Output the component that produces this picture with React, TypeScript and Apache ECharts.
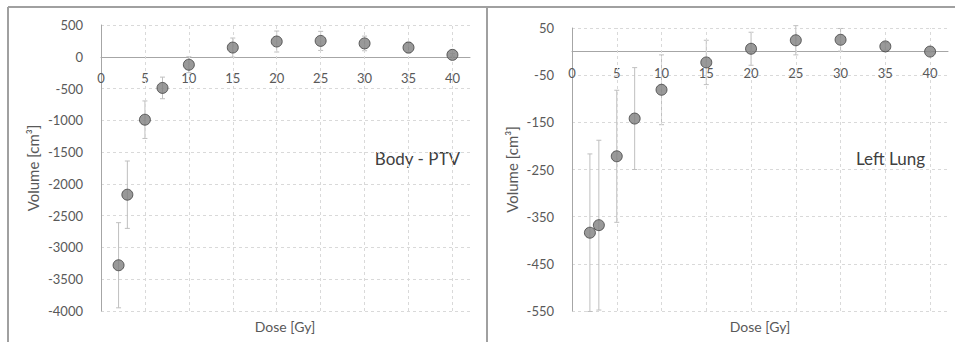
import React, { useEffect, useRef } from "react";
import * as echarts from "echarts";

const doses = [2, 3, 5, 7, 10, 15, 20, 25, 30, 35, 40];
const bodyMean = [-3280, -2170, -990, -490, -125, 145, 240, 250, 210, 145, 30];
const bodyErr = [670, 530, 295, 170, 125, 150, 165, 150, 115, 85, 20];
const lungMean = [-384, -368, -222, -142, -81, -23, 6, 24, 25, 11, 0];
const lungErr = [167, 180, 140, 108, 74, 47, 35, 31, 24, 8, 0];
const xGridTicks = [5, 10, 15, 20, 25, 30, 35, 40];

const bodyY = { min: -4000, max: 500, interval: 500 };
const lungY = { min: -550, max: 50, interval: 100 };

const FONT = "Lato";
const AXIS = "#a6a6a6";
const GRIDC = "#d9d9d9";
const TEXT = "#595959";

const H = 342;
const grids = [
  { left: 101, right: 485, top: 25, bottom: 31 },
  { left: 572, right: 7, top: 28, bottom: 31 },
];

function errorSeries(idx: number, mean: number[], err: number[]) {
  return {
    type: "custom",
    xAxisIndex: idx,
    yAxisIndex: idx,
    z: 2,
    data: doses.map((d, i) => [d, mean[i] - err[i], mean[i] + err[i]]),
    encode: { x: 0, y: [1, 2] },
    renderItem: (params: any, api: any) => {
      const x = api.value(0);
      const top = api.coord([x, api.value(2)]);
      const bot = api.coord([x, api.value(1)]);
      const w = 2.5;
      const st = { stroke: "#bfbfbf", lineWidth: 1 };
      return {
        type: "group",
        children: [
          { type: "line", shape: { x1: top[0], y1: top[1], x2: bot[0], y2: bot[1] }, style: st },
          { type: "line", shape: { x1: top[0] - w, y1: top[1], x2: top[0] + w, y2: top[1] }, style: st },
          { type: "line", shape: { x1: bot[0] - w, y1: bot[1], x2: bot[0] + w, y2: bot[1] }, style: st },
        ],
      };
    },
    markLine: {
      silent: true,
      symbol: "none",
      label: { show: false },
      lineStyle: { type: [3, 3], color: GRIDC, width: 1 },
      data: xGridTicks.map((v) => ({ xAxis: v })),
    },
  };
}

function pointSeries(idx: number, mean: number[]) {
  return {
    type: "scatter",
    xAxisIndex: idx,
    yAxisIndex: idx,
    z: 5,
    symbol: "circle",
    symbolSize: 11,
    itemStyle: { color: "#7f7f7f", borderColor: "#404040", borderWidth: 1 },
    data: doses.map((d, i) => [d, mean[i]]),
  };
}

function xAx(idx: number, y: { min: number; max: number }) {
  const g = grids[idx];
  const plotH = H - g.top - g.bottom;
  const zeroFromBottom = (plotH * (0 - y.min)) / (y.max - y.min);
  return {
    type: "value",
    gridIndex: idx,
    min: 0,
    max: 42,
    interval: 5,
    offset: -zeroFromBottom,
    axisLine: { show: true, onZero: false, lineStyle: { color: AXIS, width: 1 } },
    axisTick: { show: false },
    splitLine: { show: false },
    axisLabel: {
      showMaxLabel: false,
      margin: 15,
      color: TEXT,
      fontFamily: FONT,
      fontSize: 13,
    },
  };
}

function yAx(idx: number, y: { min: number; max: number; interval: number }, gap: number) {
  return {
    type: "value",
    gridIndex: idx,
    min: y.min,
    max: y.max,
    interval: y.interval,
    name: "Volume [cm³]",
    nameLocation: "middle",
    nameGap: gap,
    nameTextStyle: { color: TEXT, fontFamily: FONT, fontSize: 15 },
    axisLine: { show: true, onZero: false, lineStyle: { color: AXIS, width: 1 } },
    axisTick: { show: false },
    splitLine: { show: true, lineStyle: { type: [3, 3], color: GRIDC, width: 1 } },
    axisLabel: {
      margin: 18,
      color: TEXT,
      fontFamily: FONT,
      fontSize: 13,
      formatter: (v: number) => String(v),
    },
  };
}

export default function App() {
  const ref = useRef<HTMLDivElement>(null);
  useEffect(() => {
    if (!ref.current) return;
    const chart = echarts.init(ref.current, null, { renderer: "svg" });
    const frame = { stroke: "#a0a0a0", lineWidth: 2 };
    chart.setOption({
      animation: false,
      backgroundColor: "#ffffff",
      grid: grids,
      xAxis: [xAx(0, bodyY), xAx(1, lungY)],
      yAxis: [yAx(0, bodyY, 61), yAx(1, lungY, 53)],
      series: [
        errorSeries(0, bodyMean, bodyErr),
        pointSeries(0, bodyMean),
        errorSeries(1, lungMean, lungErr),
        pointSeries(1, lungMean),
      ],
      graphic: [
        { type: "line", shape: { x1: 8, y1: 7, x2: 955, y2: 7 }, style: frame, silent: true },
        { type: "line", shape: { x1: 8, y1: 7, x2: 8, y2: 342 }, style: frame, silent: true },
        { type: "line", shape: { x1: 487, y1: 7, x2: 487, y2: 342 }, style: frame, silent: true },
        {
          type: "text",
          x: 460,
          y: 158,
          style: { text: "Body - PTV", fill: "#404040", font: `17px ${FONT}`, textAlign: "right", textVerticalAlign: "middle" },
        },
        {
          type: "text",
          x: 925,
          y: 158,
          style: { text: "Left Lung", fill: "#404040", font: `17px ${FONT}`, textAlign: "right", textVerticalAlign: "middle" },
        },
        {
          type: "text",
          x: 285,
          y: 326,
          style: { text: "Dose [Gy]", fill: TEXT, font: `14px ${FONT}`, textAlign: "center", textVerticalAlign: "middle" },
        },
        {
          type: "text",
          x: 760,
          y: 326,
          style: { text: "Dose [Gy]", fill: TEXT, font: `14px ${FONT}`, textAlign: "center", textVerticalAlign: "middle" },
        },
      ],
    });
    return () => chart.dispose();
  }, []);
  return (
    <div
      ref={ref}
      style={{ position: "fixed", left: 0, top: 0, width: 955, height: 342, background: "#fff" }}
    />
  );
}
